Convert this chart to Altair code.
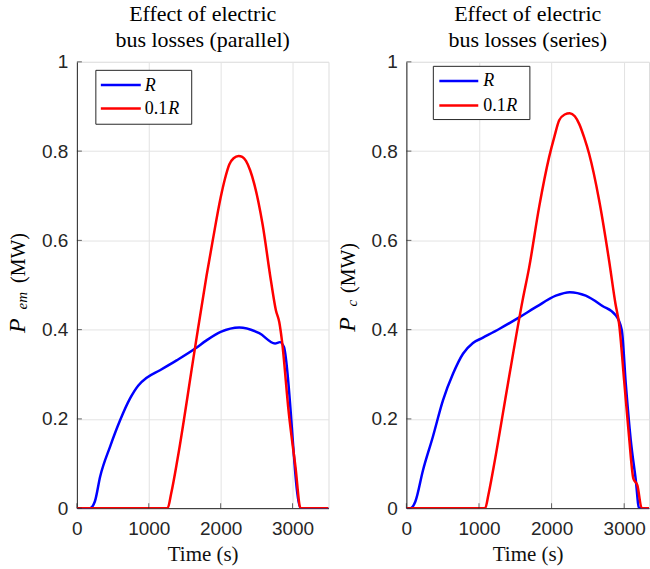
import altair as alt
import pandas as pd

# ---------------- data ----------------
XTICKS = [0, 1000, 2000, 3000]
YTICKS = [0, 0.2, 0.4, 0.6, 0.8, 1.0]

# parallel configuration
par_R_t = [0, 180, 250, 324, 462, 601, 740, 855, 971, 1156, 1387, 1641, 1803,
           2000, 2259, 2537, 2756, 2825, 2880, 3111, 3500]
par_R_p = [0, 0, 0.015, 0.071, 0.138, 0.197, 0.246, 0.275, 0.292, 0.309, 0.331,
           0.357, 0.376, 0.395, 0.405, 0.392, 0.369, 0.372, 0.361, 0, 0]
par_01R_t = [0, 1262, 1313, 1400, 1641, 1803, 1889, 2000, 2060, 2120, 2180, 2250,
             2300, 2352, 2410, 2468, 2583, 2699, 2769, 2815, 2852, 2949, 3041,
             3111, 3500]
par_01R_p = [0, 0, 0.034, 0.11, 0.357, 0.52, 0.599, 0.696, 0.738, 0.770, 0.784,
             0.789, 0.787, 0.778, 0.757, 0.726, 0.636, 0.510, 0.443, 0.417, 0.376,
             0.211, 0.092, 0, 0]

# series configuration
ser_R_t = [0, 55, 124, 229, 365, 505, 642, 780, 917, 1055, 1284, 1560, 1800, 2059,
           2251, 2471, 2701, 2884, 2967, 3022, 3091, 3160, 3205, 3500]
ser_R_p = [0, 0, 0.015, 0.085, 0.16, 0.242, 0.301, 0.346, 0.370, 0.382, 0.402,
           0.428, 0.452, 0.476, 0.484, 0.476, 0.453, 0.432, 0.399, 0.279, 0.152,
           0.063, 0, 0]
ser_01R_t = [0, 1085, 1130, 1200, 1400, 1600, 1692, 1829, 1967, 2040, 2105, 2180,
             2251, 2320, 2380, 2450, 2517, 2655, 2792, 2880, 2930, 2999, 3067,
             3127, 3182, 3242, 3500]
ser_01R_p = [0, 0, 0.03, 0.09, 0.28, 0.465, 0.54, 0.675, 0.787, 0.833, 0.869, 0.882,
             0.885, 0.878, 0.861, 0.830, 0.794, 0.690, 0.555, 0.458, 0.413, 0.287,
             0.160, 0.066, 0.051, 0, 0]

SERIES_COLORS = {"R": "#0000ff", "0.1R": "#ff0000"}

# ---------------- style ----------------
SANS = "Liberation Sans"
SERIF = "Liberation Serif"
AX = "#262626"
GRID = "#e3e3e3"
H = 447


def panel(tR, pR, t01, p01, xmax, width, title_lines, sub, ypos, leg):
    xs = alt.Scale(domain=[0, xmax], nice=False, zero=False)
    ys = alt.Scale(domain=[0, 1], nice=False)
    xaxis = alt.Axis(values=XTICKS, format="d", title="Time (s)", grid=True,
                     gridColor=GRID, ticks=False, tickSize=0, labelFont=SANS,
                     labelFontSize=19, labelColor=AX, labelPadding=11,
                     domainColor=AX, titleFont=SERIF, titleFontSize=21,
                     titleFontWeight="normal", titleColor="#111111",
                     titlePadding=5, labelFlush=False, labelOverlap=False)
    yaxis = alt.Axis(values=YTICKS, format="~g", title=None, grid=True,
                     gridColor=GRID, ticks=False, tickSize=0, labelFont=SANS,
                     labelFontSize=19, labelColor=AX, labelPadding=9,
                     domainColor=AX, labelFlush=False, labelOverlap=False)

    dR = pd.DataFrame({"t": tR, "p": pR, "s": "R"})
    d01 = pd.DataFrame({"t": t01, "p": p01, "s": "0.1R"})

    lineR = alt.Chart(dR).mark_line(strokeWidth=2.5, clip=True, interpolate="monotone",
                                    color=SERIES_COLORS["R"]).encode(
        x=alt.X("t:Q", scale=xs, axis=xaxis),
        y=alt.Y("p:Q", scale=ys, axis=yaxis))
    line01 = alt.Chart(d01).mark_line(strokeWidth=2.5, clip=True, interpolate="monotone",
                                      color=SERIES_COLORS["0.1R"]).encode(
        x=alt.X("t:Q", scale=xs, axis=xaxis),
        y=alt.Y("p:Q", scale=ys, axis=yaxis))

    xt = alt.Chart(pd.DataFrame({"v": XTICKS})).mark_tick(
        orient="vertical", color=AX, size=5, thickness=1, yOffset=-2.5).encode(
        x=alt.X("v:Q", scale=xs, axis=xaxis), y=alt.value(H))
    yt = alt.Chart(pd.DataFrame({"v": YTICKS})).mark_tick(
        orient="horizontal", color=AX, size=5, thickness=1, xOffset=2.5).encode(
        y=alt.Y("v:Q", scale=ys, axis=yaxis), x=alt.value(0))

    one = pd.DataFrame({"k": [0]})
    # y axis title  P_sub (MW), rotated
    (px, py), (sx, sy), (mx, my) = ypos
    yt1 = alt.Chart(one).mark_text(text="P", font=SERIF, fontStyle="italic",
                                   fontSize=24, angle=270, align="left",
                                   baseline="alphabetic", color="black").encode(
        x=alt.value(px), y=alt.value(py))
    yt2 = alt.Chart(one).mark_text(text=sub, font=SERIF, fontStyle="italic",
                                   fontSize=15, angle=270, align="left",
                                   baseline="alphabetic", color="black").encode(
        x=alt.value(sx), y=alt.value(sy))
    yt3 = alt.Chart(one).mark_text(text="(MW)", font=SERIF, fontSize=20,
                                   angle=270, align="left",
                                   baseline="alphabetic", color="black").encode(
        x=alt.value(mx), y=alt.value(my))

    # legend box
    bx0, by0, bx1, by1, lx0, lx1, ly1, ly2, tx, ty1, ty2, rx = leg
    box = alt.Chart(one).mark_rect(fill="white", stroke=AX, strokeWidth=1).encode(
        x=alt.value(bx0), x2=alt.value(bx1), y=alt.value(by0), y2=alt.value(by1))
    l1 = alt.Chart(one).mark_rule(color=SERIES_COLORS["R"], strokeWidth=2.5).encode(
        x=alt.value(lx0), x2=alt.value(lx1), y=alt.value(ly1))
    l2 = alt.Chart(one).mark_rule(color=SERIES_COLORS["0.1R"], strokeWidth=2.5).encode(
        x=alt.value(lx0), x2=alt.value(lx1), y=alt.value(ly2))
    t1 = alt.Chart(one).mark_text(text="R", font=SERIF, fontStyle="italic",
                                  fontSize=18, align="left", baseline="alphabetic",
                                  color="black").encode(x=alt.value(tx), y=alt.value(ty1))
    t2 = alt.Chart(one).mark_text(text="0.1", font=SERIF, fontSize=18, align="left",
                                  baseline="alphabetic", color="black").encode(
        x=alt.value(tx), y=alt.value(ty2))
    t3 = alt.Chart(one).mark_text(text="R", font=SERIF, fontStyle="italic",
                                  fontSize=18, align="left", baseline="alphabetic",
                                  color="black").encode(x=alt.value(rx), y=alt.value(ty2))

    return alt.layer(lineR, line01, xt, yt, yt1, yt2, yt3, box, l1, l2, t1, t2, t3).properties(
        width=width, height=H,
        title=alt.TitleParams(text=title_lines, font=SERIF, fontSize=22,
                              fontWeight="normal", color="black", anchor="middle",
                              lineHeight=26, baseline="bottom", offset=-21))


left = panel(par_R_t, par_R_p, par_01R_t, par_01R_p, 3500, 252,
             ["Effect of electric", "bus losses (parallel)"], "em",
             ((-52, 271.5), (-50, 248), (-52, 221.5)),
             (19, 8.5, 115, 62.5, 24, 64, 23.2, 46.8, 68, 29.2, 51.8, 91.5))
right = panel(ser_R_t, ser_R_p, ser_01R_t, ser_01R_p, 3342, 243,
              ["Effect of electric", "bus losses (series)"], "c",
              ((-51, 270.2), (-49, 245), (-51, 231.5)),
              (27, 4.5, 123.7, 57.8, 33, 72, 19.2, 43.8, 77, 24.5, 49.5, 100))

chart = alt.hconcat(left, right, spacing=78, bounds="flush").properties(
    padding={"left": 5, "top": 1.5, "right": 0, "bottom": 2}
).configure_view(stroke=None).configure(background="white")

chart.save("out.html", embed_options={"renderer": "svg", "actions": False})
